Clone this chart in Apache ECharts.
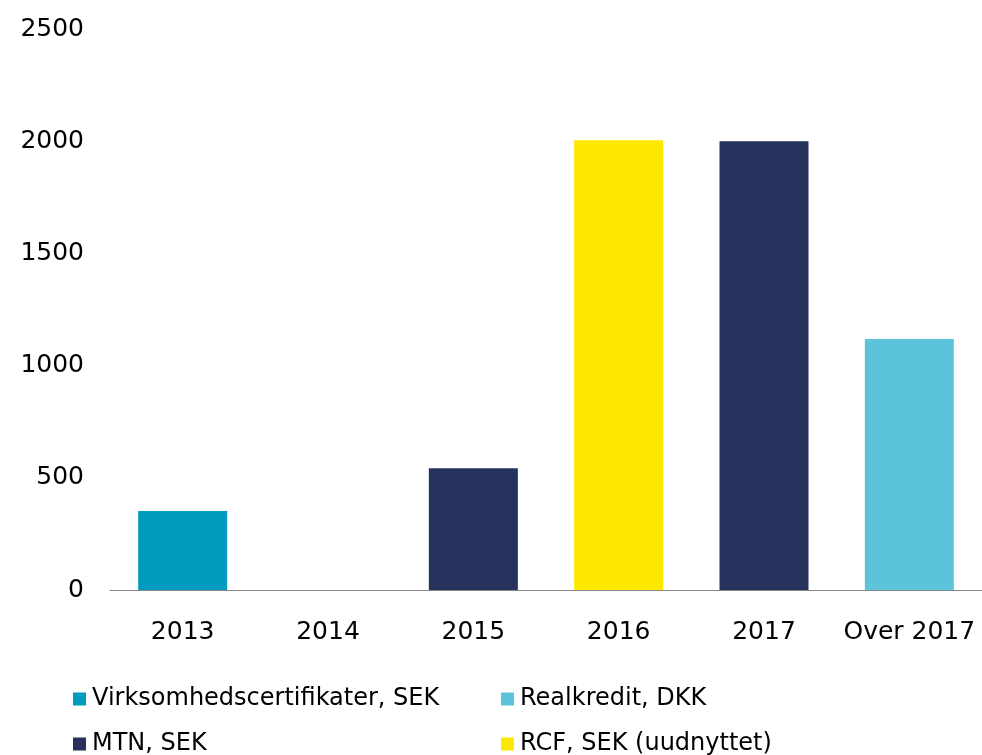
<!DOCTYPE html>
<html>
<head>
<meta charset="utf-8">
<script src="https://cdn.jsdelivr.net/npm/echarts@6/dist/echarts.min.js"></script>
<style>
html, body { margin: 0; padding: 0; background: #fff; }
#chart { width: 982px; height: 755px; }
</style>
</head>
<body>
<div id="chart"></div>
<script>
var categories = ['2013', '2014', '2015', '2016', '2017', 'Over 2017'];
var seriesNames = ['Virksomhedscertifikater, SEK', 'Realkredit, DKK', 'MTN, SEK', 'RCF, SEK (uudnyttet)'];
var seriesColors = ['#009bbd', '#5bc4da', '#25325c', '#ffe800'];
var virksomhed = [352, '-', '-', '-', '-', '-'];
var realkredit = ['-', '-', '-', '-', '-', 1118];
var mtn = ['-', '-', 543, '-', 2000, '-'];
var rcf = ['-', '-', '-', 2004, '-', '-'];
var seriesData = [virksomhed, realkredit, mtn, rcf];

var chart = echarts.init(document.getElementById('chart'));
var font = 'DejaVu Sans';

var series = [];
for (var i = 0; i < seriesNames.length; i++) {
    series.push({
        name: seriesNames[i],
        type: 'bar',
        stack: 'total',
        barWidth: 89,
        itemStyle: { color: seriesColors[i] },
        data: seriesData[i]
    });
}

// one legend per item so they sit in a 2x2 grid
var legendPos = [[73, 687], [501, 687], [73, 732], [501, 732]];
var legends = [];
for (var j = 0; j < seriesNames.length; j++) {
    legends.push({
        data: [seriesNames[j]],
        left: legendPos[j][0], top: legendPos[j][1],
        padding: 0,
        itemWidth: 13, itemHeight: 13, itemGap: 5,
        icon: 'rect',
        textStyle: { fontFamily: font, fontSize: 24, color: '#000', padding: [0, 0, 0, 1] }
    });
}

var option = {
    animation: false,
    grid: { left: 110, right: 0, top: 29, bottom: 165 },
    legend: legends,
    xAxis: {
        type: 'category',
        data: categories,
        axisLine: { lineStyle: { color: '#888', width: 1 } },
        axisTick: { show: false },
        axisLabel: { fontFamily: font, fontSize: 25, color: '#000', margin: 30, interval: 0 }
    },
    yAxis: {
        type: 'value',
        min: 0, max: 2500, interval: 500,
        splitLine: { show: false },
        axisLine: { show: false },
        axisTick: { show: false },
        axisLabel: {
            fontFamily: font, fontSize: 25, color: '#000', margin: 26,
            formatter: function (v) { return String(v); }
        }
    },
    series: series
};

chart.setOption(option);
</script>
</body>
</html>
